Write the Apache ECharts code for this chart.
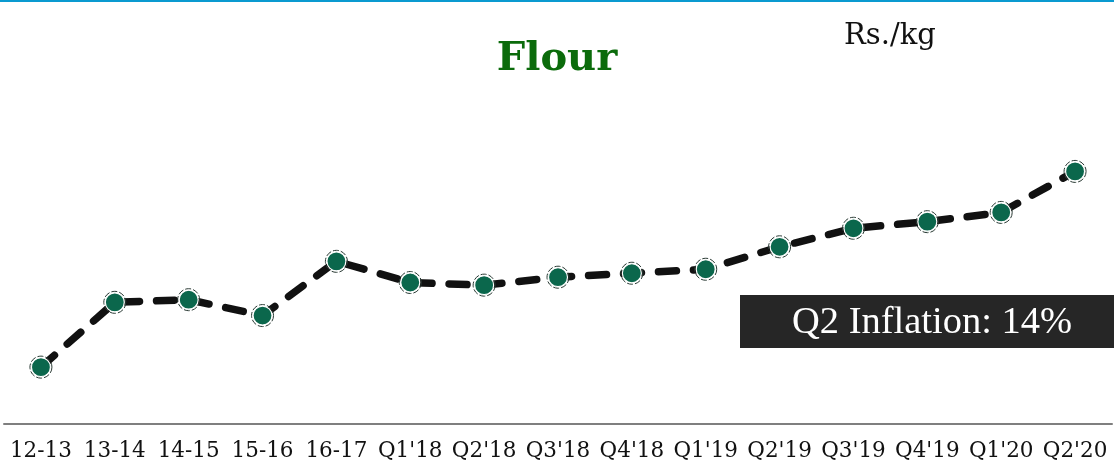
<!DOCTYPE html>
<html>
<head>
<meta charset="utf-8">
<script src="https://cdn.jsdelivr.net/npm/echarts@6/dist/echarts.min.js"></script>
<style>
  html, body { margin: 0; padding: 0; background: #fff; }
  #chart { width: 1114px; height: 465px; }
</style>
</head>
<body>
<div id="chart"></div>
<script>
// Average flour price, Rs. per kg
const categories = ['12-13', '13-14', '14-15', '15-16', '16-17', "Q1'18", "Q2'18", "Q3'18", "Q4'18", "Q1'19", "Q2'19", "Q3'19", "Q4'19", "Q1'20", "Q2'20"];
const flourPrice = [31.9, 36.8, 37.0, 35.8, 39.9, 38.3, 38.1, 38.7, 39.0, 39.3, 41.0, 42.4, 42.9, 43.6, 46.7];

// Year-on-year change for the second quarter
const q2Inflation = Math.round((flourPrice[14] / flourPrice[10] - 1) * 100);

const chart = echarts.init(document.getElementById('chart'));

chart.setOption({
  animation: false,
  backgroundColor: '#ffffff',
  title: [
    {
      text: 'Flour',
      left: 'center',
      top: 35,
      textStyle: { fontFamily: 'DejaVu Serif', fontWeight: 'bold', fontSize: 40, color: '#0b6b0b' }
    },
    {
      text: 'Rs./kg',
      left: 839,
      top: 17,
      textStyle: { fontFamily: 'DejaVu Serif', fontWeight: 'normal', fontSize: 29, color: '#111' }
    }
  ],
  grid: { left: 4, right: 2, top: 100, bottom: 41, containLabel: false },
  xAxis: {
    type: 'category',
    data: categories,
    boundaryGap: true,
    axisLine: { show: true, lineStyle: { color: '#7f7f7f', width: 2 } },
    axisTick: { show: false },
    axisLabel: { interval: 0, margin: 16, fontFamily: 'DejaVu Serif', fontSize: 21.5, color: '#111' }
  },
  yAxis: {
    type: 'value',
    min: 27.6,
    max: 52.1,
    show: false,
    splitLine: { show: false }
  },
  graphic: [
    { type: 'rect', left: 0, top: 0, shape: { width: 1114, height: 2 }, style: { fill: '#0a9ad0' } },
    {
      type: 'group',
      left: 740,
      top: 295,
      children: [
        { type: 'rect', shape: { width: 374, height: 53 }, style: { fill: '#262626' } },
        {
          type: 'text',
          left: 52,
          top: 8,
          style: {
            text: 'Q2 Inflation: ' + q2Inflation + '%',
            fill: '#ffffff',
            font: '38.5px "Liberation Serif"'
          }
        }
      ]
    }
  ],
  series: [
    {
      type: 'line',
      data: flourPrice,
      symbol: 'circle',
      symbolSize: 19,
      z: 3,
      lineStyle: { color: '#111', width: 7.5, type: [18, 17], cap: 'round' },
      itemStyle: { color: '#0b674c', borderColor: '#ffffff', borderWidth: 1.2 }
    },
    {
      type: 'line',
      data: flourPrice,
      symbol: 'circle',
      symbolSize: 22,
      z: 4,
      lineStyle: { width: 0, opacity: 0 },
      itemStyle: { color: 'rgba(0,0,0,0)', borderColor: '#2a3a34', borderWidth: 1, borderType: [6, 2] }
    }
  ]
});
</script>
</body>
</html>
